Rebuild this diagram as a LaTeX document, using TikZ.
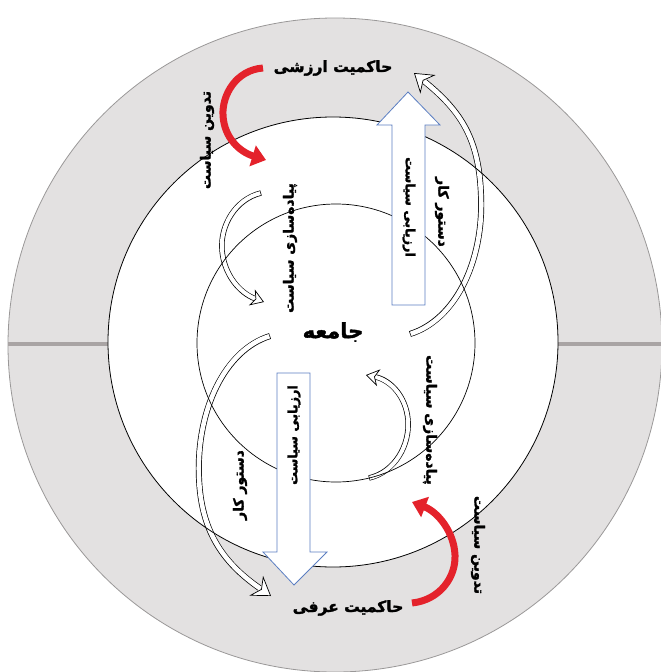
\documentclass[tikz,border=0pt]{standalone}
\usepackage{fontspec}
\newfontfamily\arabicfont[Script=Arabic, BoldFeatures={FakeBold=1.8}]{DejaVu Sans}
\TeXXeTstate=1
\usetikzlibrary{arrows.meta,decorations.markings}
\definecolor{greyc}{HTML}{E3E1E1}
\definecolor{outerc}{HTML}{9A9898}
\definecolor{linec}{HTML}{A9A4A4}
\definecolor{redc}{HTML}{E4222B}
\definecolor{bluec}{HTML}{5B7EC2}
\tikzset{
  title/.style={font=\arabicfont\bfseries\fontsize{15.5}{17}\selectfont, inner sep=0pt},
  lab/.style={font=\arabicfont\bfseries\fontsize{14}{16}\selectfont, inner sep=0pt},
  inlab/.style={font=\arabicfont\bfseries\fontsize{12.8}{14}\selectfont, inner sep=0pt},
  bighollow/.style={
    preaction={draw=black, line width=6pt, shorten >=14pt},
    preaction={draw=white, line width=4.6pt, shorten <=0.7pt, shorten >=13pt},
    postaction={decorate, decoration={markings, mark=at position 1 with
      {\arrow[line width=0.7pt, black]{Stealth[length=18pt,width=24pt,inset=6pt,fill=white]}}}}},
  smallhollow/.style={
    preaction={draw=black, line width=5.4pt, shorten >=10pt},
    preaction={draw=white, line width=4pt, shorten <=0.7pt, shorten >=9pt},
    postaction={decorate, decoration={markings, mark=at position 1 with
      {\arrow[line width=0.7pt, black]{Stealth[length=13pt,width=17pt,inset=4pt,fill=white]}}}}},
  redarrow/.style={draw=redc, line width=7pt, -{Triangle[length=14pt,width=21pt]}},
  blockarrow/.style={draw=bluec, line width=0.8pt, fill=white, line join=miter},
}
\begin{document}
\begin{tikzpicture}[x=1pt,y=-1pt]
\useasboundingbox (0,0) rectangle (661,672);
\begin{scope}
  \clip (0,0) rectangle (661,672);
  \filldraw[fill=greyc, draw=outerc, line width=0.8pt] (335,345) circle (327pt);
  \draw[linec, line width=4pt] (8,344) -- (661,344);
  \fill[white] (333,342) circle (225pt);
\end{scope}
% curved hollow arrows (under circle lines)
\path[bighollow] (410,334) .. controls (455,320) and (484,262) .. (481,195) .. controls (479,140) and (462,112) .. (414,73);
\path[bighollow] (270,336) .. controls (225,350) and (196,410) .. (199,478) .. controls (201,530) and (222,562) .. (271,596);
\path[smallhollow] (261,193) .. controls (236,199) and (220,225) .. (222,250) .. controls (224,275) and (240,293) .. (264,302);
\path[smallhollow] (369,478) .. controls (395,472) and (410,445) .. (408,420) .. controls (406,396) and (390,380) .. (366,375);
% circle lines
\draw[black, line width=0.8pt] (333,342) circle (225pt);
\draw[black, line width=0.7pt] (336,343) circle (139pt);
% straight block arrows
\draw[blockarrow] (392,305) -- (392,125) -- (377,125) -- (408,92) -- (440,125) -- (425,125) -- (425,305) -- cycle;
\draw[blockarrow] (277,373) -- (277,552) -- (263,552) -- (294,585) -- (327,552) -- (310,552) -- (310,373) -- cycle;
% red arrows
\draw[redarrow] (263,68) .. controls (236,70) and (222,95) .. (223,115) .. controls (224,138) and (240,152) .. (266,160);
\draw[redarrow] (412,603) .. controls (440,600) and (456,577) .. (455,555) .. controls (454,532) and (438,512) .. (412,502);
% texts
\node[title] (hArz) at (333,68) {\beginR حاکمیت ارزشی\endR};
\node[title] (hOrf) at (348,608) {\beginR حاکمیت عرفی\endR};
\node[title, font=\arabicfont\bfseries\fontsize{21}{23}\selectfont] (jam) at (333,332) {\beginR جامعه\endR};
\node[lab, rotate=90] (tadL) at (207,140) {\beginR تدوین سیاست\endR};
\node[lab, rotate=-90] (tadR) at (478,545) {\beginR تدوین سیاست\endR};
\node[lab, rotate=90] (pyL) at (290,248) {\beginR پیاده‌سازی سیاست\endR};
\node[lab, rotate=-90] (pyR) at (430,420) {\beginR پیاده‌سازی سیاست\endR};
\node[lab, rotate=-90] (dsR) at (442,212) {\beginR دستور کار\endR};
\node[lab, rotate=90] (dsL) at (240,485) {\beginR دستور کار\endR};
\node[inlab, rotate=-90] (arzU) at (409,207) {\beginR ارزیابی سیاست\endR};
\node[inlab, rotate=90] (arzD) at (294,435) {\beginR ارزیابی سیاست\endR};
\end{tikzpicture}
\end{document}
